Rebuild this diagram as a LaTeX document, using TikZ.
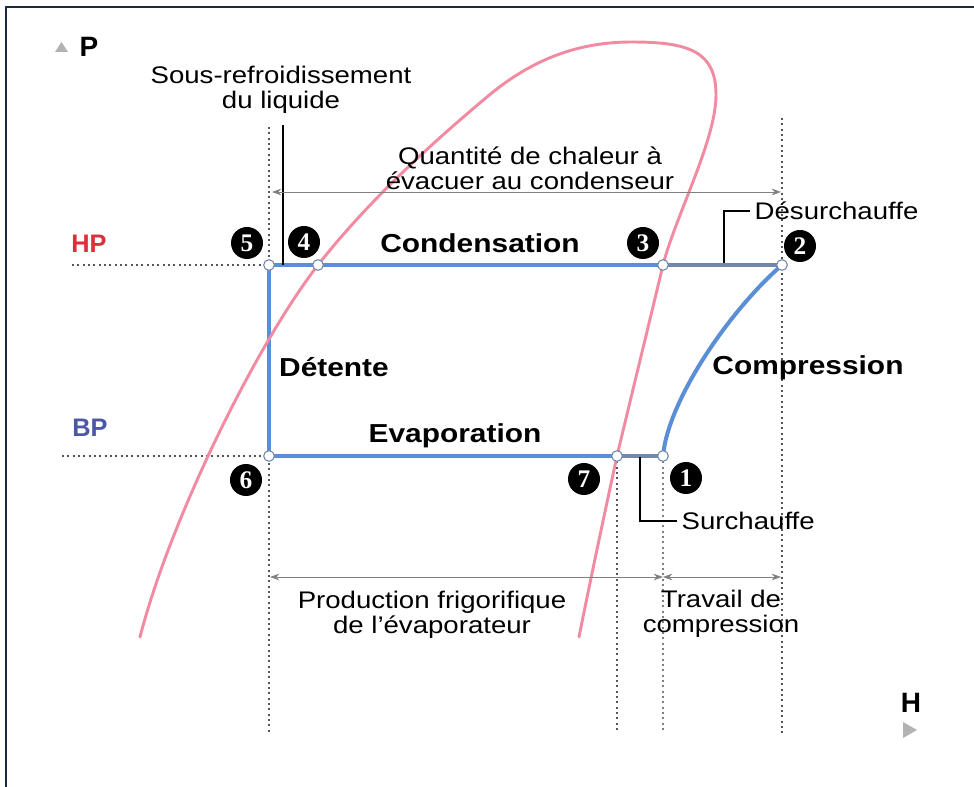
\documentclass[tikz,border=0pt]{standalone}
\usepackage{fontspec}
\setmainfont{Liberation Sans}[FakeStretch=1.15]
\newfontfamily\axisfont{Liberation Sans}
\newfontfamily\ballfont{Liberation Serif}
\usepackage{tikz}
\usetikzlibrary{arrows.meta}
\definecolor{cyc}{HTML}{5A8ED6}
\definecolor{cycdim}{HTML}{7188AC}
\definecolor{sat}{HTML}{F28BA2}
\definecolor{hpred}{HTML}{DB2F3A}
\definecolor{bpblue}{HTML}{4A58A6}
\definecolor{edge}{HTML}{1D2942}
\definecolor{guidegrey}{HTML}{555555}
\tikzset{
  >={Stealth[length=7pt,width=5pt]},
  guide/.style={guidegrey,dash pattern=on 1.5pt off 2.5pt,line width=0.9pt},
  dimline/.style={<->,gray,line width=0.6pt},
  leader/.style={black,line width=1.1pt},
  ball/.style={circle,fill=black,text=white,inner sep=0pt,minimum size=24pt,
    font=\ballfont\bfseries\fontsize{19}{19}\selectfont},
  knot/.style={circle,draw=cycdim,fill=white,line width=0.8pt,inner sep=0pt,minimum size=8pt},
  stage/.style={font=\bfseries\fontsize{19.5}{20}\selectfont,anchor=base},
  note/.style={font=\fontsize{18}{18.8}\selectfont,align=center},
  cycleline/.style={cyc,line width=3pt},
  axislabel/.style={font=\axisfont\bfseries\fontsize{21}{21}\selectfont},
}
\newcommand{\cyclepoints}{%
  \coordinate (p5) at (269,265);
  \coordinate (p4) at (318,265);
  \coordinate (p3) at (663,265);
  \coordinate (p2) at (782,265);
  \coordinate (p6) at (269,456);
  \coordinate (p7) at (617,456);
  \coordinate (p1) at (663,456);
}
\newcommand{\guidelines}{%
  \coordinate (hpend) at (72,265);
  \coordinate (bpend) at (62,456);
  \coordinate (v5top) at (269,127);
  \coordinate (v6bot) at (269,733);
  \coordinate (v2top) at (782,118);
  \coordinate (v2bot) at (782,733);
  \coordinate (v7bot) at (617,733);
  \coordinate (v1bot) at (663,733);
  \draw[guide] (hpend) -- (p5);
  \draw[guide] (bpend) -- (p6);
  \draw[guide] (v5top) -- (v6bot);
  \draw[guide] (v2top) -- (v2bot);
  \draw[guide] (p7) -- (v7bot);
  \draw[guide,gray] (p1) -- (v1bot);
}
\newcommand{\satcurve}{%
  \draw[sat,line width=2.2pt,line cap=round]
    (140,637) .. controls (170,520) and (256,345) .. (p4)
    .. controls (365,205) and (427,147) .. (487,97)
    .. controls (540,52) and (590,42) .. (632,42)
    .. controls (690,42) and (716,52) .. (716,95)
    .. controls (716,140) and (676,215) .. (p3)
    .. controls (648,328) and (632,393) .. (p7)
    .. controls (604,516) and (591,577) .. (579,637);
}
\newcommand{\cyclelines}{%
  \draw[cycleline] (p6) -- (p5);
  \draw[cycleline] (p5) -- (p4) -- (p3);
  \draw[cycleline,cycdim] (p3) -- (p2);
  \draw[cycleline] (p6) -- (p7);
  \draw[cycleline,cycdim] (p7) -- (p1);
  \draw[cycleline] (p1) .. controls (668,400) and (730,310) .. (p2);
}

\begin{document}
\begin{tikzpicture}[x=0.75pt,y=-0.75pt]
\useasboundingbox (0,0) rectangle (974,787);
\draw[edge,line width=1.5pt] (6,787) -- (6,7) -- (974,7);
\cyclepoints \guidelines \cyclelines \satcurve
\foreach \p in {p1,p2,p3,p4,p5,p6,p7} \node[knot] at (\p) {};
% axes
\fill[gray!60] (55,52) -- (68,52) -- (61.5,42) -- cycle;
\node[axislabel] (paxis) at (89,47) {P};
\fill[gray!60] (903,722) -- (917,730) -- (903,738) -- cycle;
\node[axislabel] (haxis) at (911,703) {H};
\node[font=\axisfont\bfseries\fontsize{19}{19}\selectfont,text=hpred,anchor=base] (hp) at (89,253) {HP};
\node[font=\axisfont\bfseries\fontsize{19}{19}\selectfont,text=bpblue,anchor=base] (bp) at (90,437) {BP};
% numbered states
\node[ball] (n5) at (247,243) {5};
\node[ball] (n4) at (304,242) {4};
\node[ball] (n3) at (643,243) {3};
\node[ball] (n2) at (800,246) {2};
\node[ball] (n6) at (246,480) {6};
\node[ball] (n7) at (584,479) {7};
\node[ball] (n1) at (686,478) {1};
% stages
\node[stage] (cond) at (480,253) {Condensation};
\node[stage] (det) at (334,377) {Détente};
\node[stage] (evap) at (455,443) {Evaporation};
\node[stage] (comp) at (808,375) {Compression};
% notes and leaders
\node[note] (sousref) at (281,90) {Sous-refroidissement\\du liquide};
\coordinate (srtop) at (283,125);
\coordinate (srfoot) at (283,265);
\draw[leader] (srtop) -- (srfoot);
\node[note] (quant) at (530,168) {Quantité de chaleur à\\évacuer au condenseur};
\coordinate (qL) at (272,192);
\coordinate (qR) at (781,192);
\draw[dimline] (qL) -- (qR);
\node[note,anchor=west] (desurch) at (750,211) {Désurchauffe};
\coordinate (dsfoot) at (724,263);
\draw[leader] (dsfoot) |- (desurch.west);
\node[note,anchor=west] (surch) at (677,521) {Surchauffe};
\coordinate (sfoot) at (640,457);
\draw[leader] (sfoot) |- (surch.west);
\coordinate (prodL) at (270,577);
\coordinate (mid) at (663,577);
\coordinate (trvR) at (781,577);
\draw[dimline] (prodL) -- (mid);
\draw[dimline] (mid) -- (trvR);
\node[note] (prod) at (432,615) {Production frigorifique\\de l'évaporateur};
\node[note] (trav) at (721,614) {Travail de\\compression};
\end{tikzpicture}
\end{document}
